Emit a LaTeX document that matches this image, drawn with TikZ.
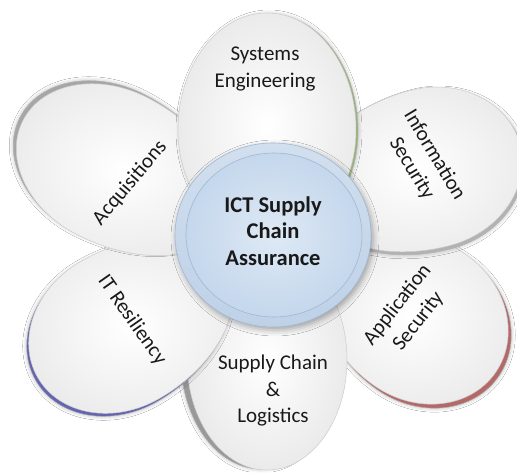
\documentclass[tikz,border=0pt]{standalone}
\usepackage{fontspec}
\setmainfont{Carlito}
\usetikzlibrary{shadows.blur}
\definecolor{ringblue}{RGB}{190,209,231}
\definecolor{faceblue}{RGB}{196,215,236}
\definecolor{ringedge}{RGB}{160,184,212}
\definecolor{appred}{RGB}{180,105,105}
\definecolor{itblue}{RGB}{100,100,175}
\definecolor{segreen}{RGB}{150,178,120}
\definecolor{txt}{RGB}{25,25,25}
\newcommand\eggshape[3]{(0,#2) arc[start angle=90,end angle=-90,x radius=#1,y radius=#2] arc[start angle=-90,end angle=-270,x radius=#3,y radius=#2] -- cycle}
% #1 X, #2 Y, #3 rotation, #4 outer half length, #5 half width, #6 inner half length, #7 rim style, #8 #9 rim offset
\newcommand\drawpetal[9]{%
  \begin{scope}[shift={(#1,#2)},shift={(#8,#9)},rotate=#3]
    \path[#7,draw=black!30,line width=0.4pt,blur shadow={shadow xshift=0pt,shadow yshift=0pt,shadow blur radius=4pt,shadow opacity=30}] \eggshape{#4}{#5}{#6};
  \end{scope}
  \begin{scope}[shift={(#1,#2)},rotate=#3]
    \path[inner color=white,outer color=black!8,draw=black!20,line width=0.5pt] \eggshape{#4}{#5}{#6};
  \end{scope}}
\tikzset{
  petaltext/.style={font=\fontsize{21}{26.5}\selectfont,align=center,text=txt,inner sep=0pt},
  hubtext/.style={font=\bfseries\fontsize{22.5}{26.5}\selectfont,align=center,text=txt,inner sep=0pt}
}
\begin{document}
\begin{tikzpicture}[x=1pt,y=1pt]
\useasboundingbox (0,0) rectangle (517,472);
\fill[white] (0,0) rectangle (517,472);
% petals, back to front
\drawpetal{420}{152}{-35}{92}{80}{110}{fill=appred}{3}{-4}
\drawpetal{267}{112}{-90}{110}{80}{110}{fill=black!40}{-6}{1}
\drawpetal{120}{142}{210}{95}{79}{122}{fill=itblue}{-2}{-3}
\drawpetal{112}{306}{153}{100}{77}{127}{fill=black!35}{-3}{3}
\drawpetal{430}{304}{15}{93}{80}{125}{fill=black!30}{2}{-3}
\drawpetal{267}{342}{90}{117}{89}{110}{fill=segreen}{2}{-1}
% hub
\path[top color=ringblue!70!white,bottom color=ringblue,draw=ringedge,line width=0.6pt,blur shadow={shadow xshift=2pt,shadow yshift=-3pt,shadow blur radius=6pt,shadow opacity=35}] (273,237) ellipse [x radius=98,y radius=92];
\path[inner color=faceblue!55!white,outer color=faceblue,draw=ringedge,line width=0.6pt] (274,237) ellipse [x radius=88,y radius=82];
% texts
\node[hubtext] (hub) at (273,241) {ICT Supply\\Chain\\Assurance};
\node[petaltext] (se) at (265,403) {Systems\\Engineering};
\node[petaltext,rotate=-59] (is) at (423,310) {Information\\Security};
\node[petaltext,rotate=52] (as) at (408,159) {Application\\Security};
\node[petaltext] (scl) at (273,81) {Supply Chain\\\&\\Logistics};
\node[petaltext,rotate=-55] (itr) at (132,152) {IT Resiliency};
\node[petaltext,rotate=50] (acq) at (130,289) {Acquisitions};
\end{tikzpicture}
\end{document}
